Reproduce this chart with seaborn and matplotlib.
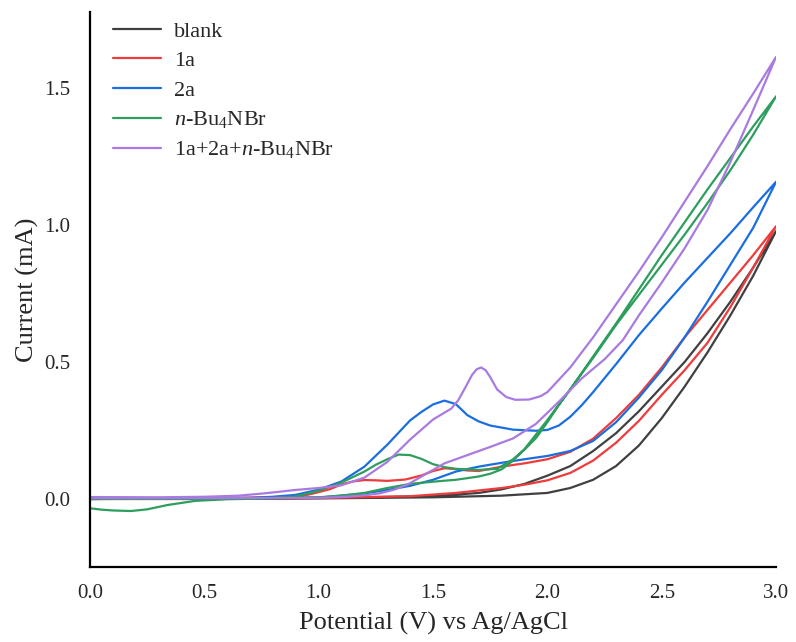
import matplotlib
matplotlib.use('Agg')
import matplotlib.pyplot as plt
import pandas as pd
import seaborn as sns

# cyclic voltammograms, each one is a forward branch (0 -> 3 V) and a return branch
blank_fwd_E = [0.0, 0.5, 1.0, 1.5, 1.7, 1.8, 1.9, 2.0, 2.1, 2.2, 2.3, 2.4, 2.5, 2.6, 2.7, 2.8, 2.9, 3.0]
blank_fwd_I = [0.0, 0.002, 0.004, 0.01, 0.022, 0.035, 0.055, 0.085, 0.12, 0.175, 0.24, 0.32, 0.41, 0.5,
               0.605, 0.72, 0.845, 0.978]
blank_rev_E = [0.0, 0.5, 1.0, 1.5, 1.8, 2.0, 2.1, 2.2, 2.3, 2.4, 2.5, 2.6, 2.7, 2.8, 2.9, 3.0]
blank_rev_I = [0.0, 0.0, 0.002, 0.006, 0.012, 0.022, 0.04, 0.07, 0.12, 0.195, 0.295, 0.41, 0.535, 0.67,
               0.815, 0.978]

a1_fwd_E = [0.0, 0.5, 0.9, 0.95, 1.0, 1.05, 1.1, 1.15, 1.2, 1.25, 1.3, 1.38, 1.45, 1.5, 1.55, 1.6, 1.65,
            1.7, 1.8, 1.9, 2.0, 2.1, 2.2, 2.3, 2.4, 2.5, 2.6, 2.7, 2.8, 2.9, 3.0]
a1_fwd_I = [0.0, 0.002, 0.008, 0.015, 0.025, 0.036, 0.053, 0.064, 0.069, 0.068, 0.066, 0.071, 0.086, 0.102,
            0.112, 0.109, 0.104, 0.102, 0.118, 0.13, 0.145, 0.172, 0.22, 0.295, 0.38, 0.48, 0.59, 0.69, 0.79,
            0.89, 0.996]
a1_rev_E = [0.0, 0.5, 1.0, 1.4, 1.6, 1.8, 1.9, 2.0, 2.1, 2.2, 2.3, 2.4, 2.5, 2.6, 2.7, 2.8, 2.9, 3.0]
a1_rev_I = [0.0, 0.0, 0.003, 0.01, 0.022, 0.04, 0.052, 0.068, 0.095, 0.14, 0.205, 0.285, 0.38, 0.47, 0.57,
            0.7, 0.845, 0.996]

a2_fwd_E = [0.0, 0.5, 0.7, 0.8, 0.9, 1.0, 1.1, 1.2, 1.3, 1.4, 1.45, 1.5, 1.55, 1.6, 1.65, 1.7, 1.75, 1.85,
            1.95, 2.0, 2.05, 2.1, 2.15, 2.2, 2.3, 2.4, 2.5, 2.6, 2.7, 2.8, 2.9, 3.0]
a2_fwd_I = [0.0, 0.002, 0.004, 0.008, 0.015, 0.034, 0.064, 0.118, 0.198, 0.287, 0.318, 0.345, 0.359, 0.346,
            0.306, 0.283, 0.268, 0.253, 0.249, 0.252, 0.268, 0.3, 0.342, 0.39, 0.492, 0.598, 0.695, 0.79,
            0.88, 0.97, 1.065, 1.158]
a2_rev_E = [0.0, 0.5, 1.0, 1.2, 1.3, 1.4, 1.5, 1.6, 1.7, 1.8, 1.9, 2.0, 2.1, 2.2, 2.3, 2.4, 2.5, 2.6, 2.7,
            2.8, 2.9, 3.0]
a2_rev_I = [0.0, 0.001, 0.005, 0.02, 0.033, 0.048, 0.07, 0.1, 0.118, 0.132, 0.145, 0.157, 0.175, 0.212,
            0.28, 0.37, 0.47, 0.59, 0.72, 0.855, 0.99, 1.158]

tbab_fwd_E = [0.0, 0.5, 0.8, 0.9, 1.0, 1.1, 1.2, 1.25, 1.3, 1.35, 1.4, 1.45, 1.5, 1.55, 1.6, 1.7, 1.78,
              1.85, 1.9, 1.95, 2.0, 2.05, 2.1, 2.15, 2.2, 2.3, 2.4, 2.5, 2.6, 2.7, 2.8, 2.9, 3.0]
tbab_fwd_I = [0.0, 0.001, 0.004, 0.009, 0.03, 0.06, 0.1, 0.125, 0.145, 0.162, 0.16, 0.146, 0.127, 0.116,
              0.11, 0.106, 0.11, 0.145, 0.18, 0.222, 0.28, 0.343, 0.4, 0.46, 0.52, 0.64, 0.765, 0.89, 1.01,
              1.13, 1.245, 1.36, 1.47]
tbab_rev_E = [0.0, 0.05, 0.1, 0.18, 0.25, 0.34, 0.46, 0.6, 0.8, 1.0, 1.1, 1.2, 1.3, 1.4, 1.5, 1.6, 1.7,
              1.75, 1.8, 1.85, 1.9, 1.95, 2.0, 2.1, 2.2, 2.3, 2.4, 2.5, 2.6, 2.7, 2.8, 2.9, 3.0]
tbab_rev_I = [-0.034, -0.039, -0.042, -0.044, -0.038, -0.022, -0.007, -0.001, 0.002, 0.006, 0.012, 0.022,
              0.04, 0.055, 0.063, 0.07, 0.082, 0.092, 0.108, 0.14, 0.182, 0.235, 0.288, 0.4, 0.515, 0.635,
              0.745, 0.855, 0.965, 1.08, 1.2, 1.33, 1.47]

mix_fwd_E = [0.0, 0.3, 0.5, 0.65, 0.77, 0.9, 1.0, 1.1, 1.2, 1.3, 1.4, 1.5, 1.55, 1.58, 1.61, 1.64, 1.67,
             1.69, 1.71, 1.73, 1.75, 1.78, 1.82, 1.86, 1.92, 1.97, 2.0, 2.1, 2.2, 2.3, 2.4, 2.5, 2.6, 2.7,
             2.8, 2.9, 3.0]
mix_fwd_I = [0.007, 0.006, 0.008, 0.012, 0.021, 0.033, 0.04, 0.05, 0.078, 0.135, 0.217, 0.29, 0.315, 0.33,
             0.36, 0.405, 0.452, 0.473, 0.48, 0.47, 0.445, 0.4, 0.372, 0.362, 0.363, 0.375, 0.39, 0.48, 0.59,
             0.71, 0.83, 0.955, 1.085, 1.215, 1.35, 1.48, 1.614]
mix_rev_E = [0.0, 0.5, 1.0, 1.12, 1.2, 1.27, 1.33, 1.39, 1.46, 1.55, 1.65, 1.75, 1.85, 1.95, 2.05, 2.15,
             2.25, 2.33, 2.4, 2.5, 2.6, 2.7, 2.8, 2.9, 3.0]
mix_rev_I = [0.003, 0.003, 0.004, 0.008, 0.013, 0.021, 0.034, 0.053, 0.087, 0.13, 0.16, 0.19, 0.221, 0.274,
             0.355, 0.44, 0.51, 0.58, 0.67, 0.79, 0.915, 1.055, 1.23, 1.42, 1.614]

names = ['blank', '1a', '2a', r'$\mathit{n}$-Bu$_4$NBr', r'1a+2a+$\mathit{n}$-Bu$_4$NBr']
colors = ['#404040', '#ee3b3b', '#1a6ee0', '#2e9e5e', '#a97ae0']
xticks = [0.0, 0.5, 1.0, 1.5, 2.0, 2.5, 3.0]
yticks = [0.0, 0.5, 1.0, 1.5]

curves = [(blank_fwd_E, blank_fwd_I, blank_rev_E, blank_rev_I),
          (a1_fwd_E, a1_fwd_I, a1_rev_E, a1_rev_I),
          (a2_fwd_E, a2_fwd_I, a2_rev_E, a2_rev_I),
          (tbab_fwd_E, tbab_fwd_I, tbab_rev_E, tbab_rev_I),
          (mix_fwd_E, mix_fwd_I, mix_rev_E, mix_rev_I)]

frames = []
for name, (fe, fi, re_, ri) in zip(names, curves):
    E = list(fe) + list(re_)[::-1]
    I = list(fi) + list(ri)[::-1]
    frames.append(pd.DataFrame({'E': E, 'I': I, 'sample': name}))
df = pd.concat(frames, ignore_index=True)

sns.set_style('ticks')
plt.rcParams['font.family'] = ['Liberation Serif', 'DejaVu Serif']
plt.rcParams['mathtext.fontset'] = 'custom'
plt.rcParams['mathtext.rm'] = 'Liberation Serif'
plt.rcParams['mathtext.it'] = 'Liberation Serif:italic'

fig, ax = plt.subplots(figsize=(7.96, 6.42), dpi=100)
fig.subplots_adjust(left=0.113, right=0.975, bottom=0.117, top=0.981)

sns.lineplot(data=df, x='E', y='I', hue='sample', hue_order=names,
             palette=dict(zip(names, colors)), sort=False, estimator=None,
             lw=1.6, ax=ax)

ax.set_xlim(0, 3.0)
ax.set_ylim(-0.248, 1.777)
ax.set_xticks(xticks)
ax.set_xticklabels(['%.1f' % v for v in xticks])
ax.set_yticks(yticks)
ax.set_yticklabels(['%.1f' % v for v in yticks])
ax.tick_params(length=0, labelsize=15)
ax.tick_params(axis='x', pad=12)
ax.tick_params(axis='y', pad=14)
ax.set_xlabel('Potential (V) vs Ag/AgCl', fontsize=19, labelpad=7)
ax.set_ylabel('Current (mA)', fontsize=19, labelpad=4)
sns.despine(ax=ax)
for s in ['left', 'bottom']:
    ax.spines[s].set_linewidth(1.6)
    ax.spines[s].set_color('black')

sns.move_legend(ax, 'upper left', bbox_to_anchor=(0.02, 1.0), frameon=False, title=None,
                fontsize=16, handlelength=2.2, handletextpad=0.55, labelspacing=0.4,
                borderaxespad=0)
for h in ax.get_legend().get_lines():
    h.set_linewidth(1.6)

fig.savefig('out.png', dpi=100)
